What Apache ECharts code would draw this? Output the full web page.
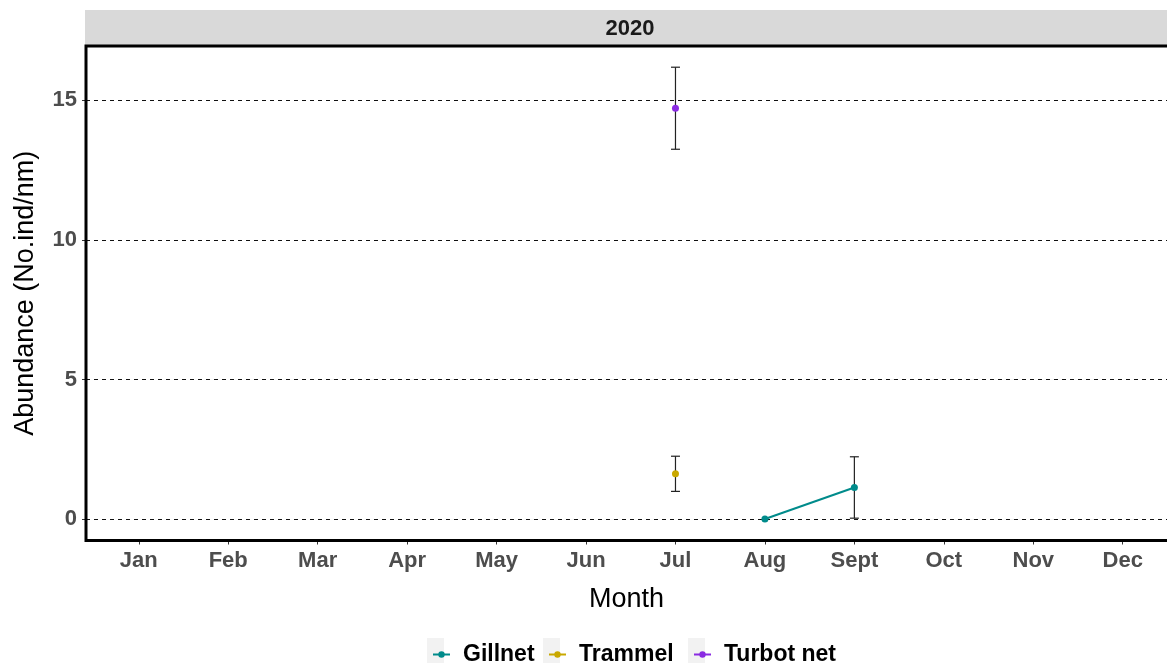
<!DOCTYPE html>
<html><head><meta charset="utf-8">
<script src="https://cdn.jsdelivr.net/npm/echarts@6/dist/echarts.min.js"></script>
<style>html,body{margin:0;padding:0;background:#fff}#c{width:1167px;height:664px}</style>
</head><body><div id="c"></div>
<script>
const months = ['Jan','Feb','Mar','Apr','May','Jun','Jul','Aug','Sept','Oct','Nov','Dec'];
const yTicks = [0, 5, 10, 15];
const panelTitle = '2020';

const gillnetMonths = ['Aug', 'Sept'];
const gillnetMean = [0, 1.13];
const gillnetLow = [0, 0.03];
const gillnetHigh = [0, 2.23];

const trammelMonths = ['Jul'];
const trammelMean = [1.62];
const trammelLow = [0.99];
const trammelHigh = [2.25];

const turbotMonths = ['Jul'];
const turbotMean = [14.72];
const turbotLow = [13.25];
const turbotHigh = [16.19];

const FONT = '"Liberation Sans", Arial, sans-serif';
const colors = { 'Gillnet': '#008b8b', 'Trammel': '#c9a800', 'Turbot net': '#8a2be2' };

function pts(ms, vals) { return ms.map((m, i) => [months.indexOf(m) + 1, vals[i]]); }
function errs(ms, lo, hi) { return ms.map((m, i) => [months.indexOf(m) + 1, lo[i], hi[i]]); }

function lineSeries(name, ms, vals) {
  return {
    name, type: 'line', data: pts(ms, vals), symbol: 'circle', symbolSize: 7,
    itemStyle: { color: colors[name] }, lineStyle: { color: colors[name], width: 2 },
    z: 5, animation: false
  };
}
function errSeries(name, ms, lo, hi) {
  return {
    name: name + ' err', type: 'custom', data: errs(ms, lo, hi), z: 3, animation: false,
    renderItem: function (params, api) {
      if (api.value(1) === api.value(2)) return null;
      const x = api.value(0);
      const lo = api.coord([x, api.value(1)]);
      const hi = api.coord([x, api.value(2)]);
      const w = 4.5;
      const st = { stroke: '#222', lineWidth: 1.2, fill: null };
      return { type: 'group', children: [
        { type: 'line', shape: { x1: lo[0], y1: lo[1], x2: hi[0], y2: hi[1] }, style: st },
        { type: 'line', shape: { x1: lo[0] - w, y1: lo[1], x2: lo[0] + w, y2: lo[1] }, style: st },
        { type: 'line', shape: { x1: hi[0] - w, y1: hi[1], x2: hi[0] + w, y2: hi[1] }, style: st }
      ]};
    }
  };
}

const GL = 86, GT = 46, GB = 540.5, W = 1167;
const unitPx = 89.45, xMin = 0.41;
const xMax = xMin + (W - GL) / unitPx;

const chart = echarts.init(document.getElementById('c'), null, { renderer: 'canvas' });
const legendBase = {
  top: 638, itemWidth: 17, itemHeight: 8,
  textStyle: { fontFamily: FONT, fontSize: 23, fontWeight: 'bold', color: '#000', padding: [0, 0, 0, 8] }
};
chart.setOption({
  animation: false,
  textStyle: { fontFamily: FONT },
  graphic: [
    { type: 'rect', shape: { x: 85, y: 10, width: 1100, height: 35 }, style: { fill: '#d9d9d9' }, z: -1 },
    { type: 'text', x: 630, y: 29, style: { text: panelTitle, font: 'bold 22px ' + FONT, fill: '#1a1a1a', textAlign: 'center', textVerticalAlign: 'middle' } },
    { type: 'rect', shape: { x: GL, y: GT, width: 1100, height: GB - GT }, style: { fill: null, stroke: '#000', lineWidth: 3 }, z: 10 },
    { type: 'rect', shape: { x: 427, y: 638, width: 17, height: 25 }, style: { fill: '#f2f2f2' }, z: -1 },
    { type: 'rect', shape: { x: 543, y: 638, width: 17, height: 25 }, style: { fill: '#f2f2f2' }, z: -1 },
    { type: 'rect', shape: { x: 688, y: 638, width: 17, height: 25 }, style: { fill: '#f2f2f2' }, z: -1 }
  ],
  legend: [
    Object.assign({}, legendBase, { left: 427, data: ['Gillnet'] }),
    Object.assign({}, legendBase, { left: 543, data: ['Trammel'] }),
    Object.assign({}, legendBase, { left: 688, data: ['Turbot net'] })
  ],
  grid: { left: GL, top: GT, right: 0, bottom: 664 - GB, show: false, containLabel: false },
  xAxis: {
    type: 'value', min: xMin, max: xMax,
    name: 'Month', nameLocation: 'middle', nameGap: 46,
    nameTextStyle: { fontSize: 27, color: '#000', fontFamily: FONT },
    axisLine: { show: false, onZero: false },
    axisTick: { show: true, customValues: months.map((m, i) => i + 1), length: 4, lineStyle: { color: '#333', width: 1 } },
    axisLabel: { customValues: months.map((m, i) => i + 1), formatter: v => months[Math.round(v) - 1], margin: 9,
      fontSize: 22, fontWeight: 'bold', color: '#4d4d4d', fontFamily: FONT },
    splitLine: { show: false }
  },
  yAxis: {
    type: 'value', min: -0.77, max: 16.95,
    name: 'Abundance (No.ind/nm)', nameLocation: 'middle', nameGap: 47, nameRotate: 90,
    nameTextStyle: { fontSize: 27, color: '#000', fontFamily: FONT },
    axisLine: { show: false, onZero: false },
    axisTick: { show: true, customValues: yTicks, length: 4, lineStyle: { color: '#333', width: 1 } },
    axisLabel: { customValues: yTicks, margin: 9, fontSize: 22, fontWeight: 'bold', color: '#4d4d4d', fontFamily: FONT },
    splitLine: { show: true, lineStyle: { color: '#111', width: 1, type: [4, 4] } }
  },
  series: [
    errSeries('Gillnet', gillnetMonths, gillnetLow, gillnetHigh),
    errSeries('Trammel', trammelMonths, trammelLow, trammelHigh),
    errSeries('Turbot net', turbotMonths, turbotLow, turbotHigh),
    lineSeries('Gillnet', gillnetMonths, gillnetMean),
    lineSeries('Trammel', trammelMonths, trammelMean),
    lineSeries('Turbot net', turbotMonths, turbotMean)
  ]
});
</script></body></html>
